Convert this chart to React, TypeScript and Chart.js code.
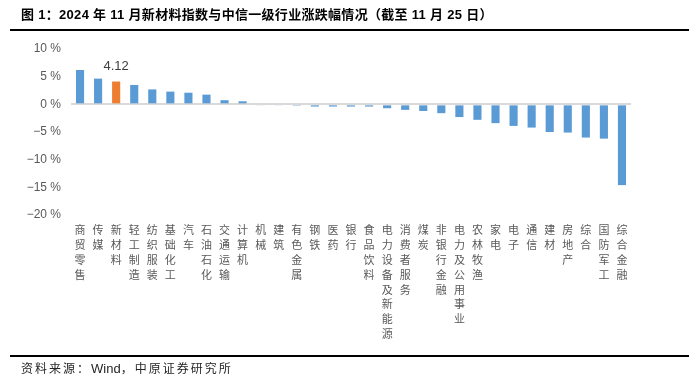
import React, { useEffect, useRef } from 'react';
import { Chart, registerables } from 'chart.js';

Chart.register(...registerables);

const categories = [
  '商贸零售', '传媒', '新材料', '轻工制造', '纺织服装', '基础化工', '汽车', '石油石化',
  '交通运输', '计算机', '机械', '建筑', '有色金属', '钢铁', '医药', '银行', '食品饮料',
  '电力设备及新能源', '消费者服务', '煤炭', '非银行金融', '电力及公用事业', '农林牧渔',
  '家电', '电子', '通信', '建材', '房地产', '综合', '国防军工', '综合金融',
];
const values = [
  6.2, 4.65, 4.12, 3.5, 2.7, 2.3, 2.1, 1.75, 0.75, 0.55, -0.2, -0.2, -0.25, -0.4, -0.4,
  -0.4, -0.4, -0.7, -1.0, -1.2, -1.6, -2.3, -2.8, -3.4, -3.9, -4.2, -5.0, -5.1, -6.0,
  -6.2, -14.6,
];
const highlightCategory = '新材料';
const highlightLabel = '4.12';
const yMin = -20;
const yMax = 10;
const yStep = 5;
const titleText = '图 1：2024 年 11 月新材料指数与中信一级行业涨跌幅情况（截至 11 月 25 日）';
const sourcePrefix = '资料来源：';
const sourceWind = 'Wind';
const sourceSuffix = '，中原证券研究所';

const BLUE = '#5B9BD5';
const ORANGE = '#ED7D31';

const labelPlugin = {
  id: 'highlightLabel',
  afterDatasetsDraw(chart: any) {
    const idx = categories.indexOf(highlightCategory);
    const meta = chart.getDatasetMeta(0);
    const el = meta.data[idx];
    if (!el) return;
    const ctx = chart.ctx;
    ctx.save();
    ctx.font = '13px "Liberation Sans", Arial, sans-serif';
    ctx.fillStyle = '#404040';
    ctx.textAlign = 'center';
    ctx.textBaseline = 'bottom';
    ctx.fillText(highlightLabel, el.x, el.y - 9);
    ctx.restore();
  },
};

export default function App() {
  const ref = useRef<HTMLCanvasElement | null>(null);

  useEffect(() => {
    if (!ref.current) return;
    const chart = new Chart(ref.current, {
      type: 'bar',
      data: {
        labels: categories.map((c) => c.split('')),
        datasets: [
          {
            data: values,
            backgroundColor: categories.map((c) => (c === highlightCategory ? ORANGE : BLUE)),
            borderWidth: 0,
            barPercentage: 0.45,
            categoryPercentage: 1,
          },
        ],
      },
      options: {
        animation: false,
        responsive: false,
        devicePixelRatio: 1,
        layout: { padding: { top: 49, right: 69, bottom: 0, left: 0 } },
        plugins: { legend: { display: false }, tooltip: { enabled: false } },
        scales: {
          x: {
            grid: { display: false, drawTicks: false },
            border: { display: false },
            ticks: {
              autoSkip: false,
              maxRotation: 0,
              minRotation: 0,
              padding: 7,
              color: '#595959',
              font: { family: '"Noto Sans CJK SC", sans-serif', size: 11, lineHeight: 1.36 },
            },
            afterFit(scale: any) {
              scale.height = 163;
            },
          },
          y: {
            min: yMin,
            max: yMax,
            grid: {
              drawTicks: false,
              color: (ctx: any) => (ctx.tick && ctx.tick.value === 0 ? '#d9d9d9' : 'rgba(0,0,0,0)'),
              lineWidth: 2,
            },
            border: { display: false },
            ticks: {
              stepSize: yStep,
              padding: 10,
              color: '#595959',
              font: { family: '"Liberation Sans", Arial, sans-serif', size: 12 },
              callback: (v: any) => (v < 0 ? '\u2212' + Math.abs(v) : String(v)) + ' %',
            },
            afterFit(scale: any) {
              scale.width = 71;
            },
          },
        },
      },
      plugins: [labelPlugin],
    });
    return () => chart.destroy();
  }, []);

  const cjkSpan = { letterSpacing: '2px' };

  return (
    <div style={{ position: 'fixed', left: 0, top: 0, width: 700, height: 378, background: '#fff', overflow: 'hidden' }}>
      <canvas ref={ref} width={700} height={378} style={{ position: 'absolute', left: 0, top: 0, width: 700, height: 378 }} />
      <div
        style={{
          position: 'absolute',
          left: 21,
          top: 7,
          fontFamily: '"Liberation Sans", "Noto Sans CJK SC", sans-serif',
          fontWeight: 'bold',
          fontSize: 13,
          letterSpacing: '0.3px',
          color: '#000',
          whiteSpace: 'nowrap',
          lineHeight: '16px',
        }}
      >
        {titleText}
      </div>
      <div style={{ position: 'absolute', left: 10, top: 29, width: 679, height: 2, background: '#000' }} />
      <div style={{ position: 'absolute', left: 10, top: 355, width: 679, height: 2, background: '#000' }} />
      <div
        style={{
          position: 'absolute',
          left: 21,
          top: 361,
          fontFamily: '"Liberation Sans", "Noto Sans CJK SC", sans-serif',
          fontSize: 12,
          color: '#262626',
          whiteSpace: 'nowrap',
          lineHeight: '16px',
        }}
      >
        <span style={cjkSpan}>{sourcePrefix}</span>
        <span style={{ fontSize: 13 }}>{sourceWind}</span>
        <span style={cjkSpan}>{sourceSuffix}</span>
      </div>
    </div>
  );
}
